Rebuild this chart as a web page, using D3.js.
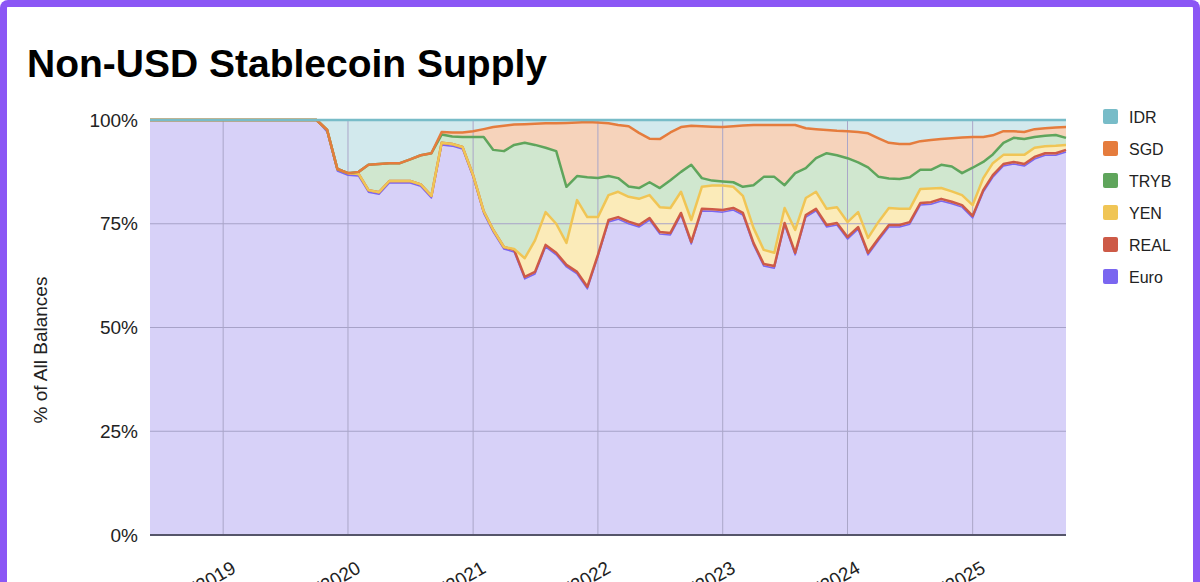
<!DOCTYPE html>
<html><head><meta charset="utf-8">
<script src="https://cdn.jsdelivr.net/npm/d3@7/dist/d3.min.js"></script>
<style>
html,body{margin:0;padding:0;background:#fff;overflow:hidden}
#frame{position:absolute;left:0;top:0;width:1200px;height:582px;box-sizing:border-box;border:7px solid #8b57f5;border-bottom:none;border-radius:8px 8px 0 0}
svg{position:absolute;left:0;top:0}
</style></head><body>
<div id="frame"></div>
<svg id="c" width="1200" height="582"></svg>
<script>
const dates = ["2018-06","2019-01","2019-06","2019-10","2019-11","2019-12",
"2020-01","2020-02","2020-03","2020-04","2020-05","2020-06","2020-07","2020-08","2020-09","2020-10","2020-11","2020-12",
"2021-01","2021-02","2021-03","2021-04","2021-05","2021-06","2021-07","2021-08","2021-09","2021-10","2021-11","2021-12",
"2022-01","2022-02","2022-03","2022-04","2022-05","2022-06","2022-07","2022-08","2022-09","2022-10","2022-11","2022-12",
"2023-01","2023-02","2023-03","2023-04","2023-05","2023-06","2023-07","2023-08","2023-09","2023-10","2023-11","2023-12",
"2024-01","2024-02","2024-03","2024-04","2024-05","2024-06","2024-07","2024-08","2024-09","2024-10","2024-11","2024-12",
"2025-01","2025-02","2025-03","2025-04","2025-05","2025-06","2025-07","2025-08","2025-09","2025-10"];
const euro = [100,100,100,100,97.1,87.7,
86.7,86.5,82.6,82.1,84.8,84.8,84.8,84.0,81.2,94.0,93.7,93.0,
86.2,77.5,73.0,68.9,68.2,61.7,62.9,69.4,67.5,64.6,62.9,59.3,
67.0,75.4,76.1,75.0,74.2,75.9,72.5,72.3,77.1,70.1,78.1,78.0,
77.8,78.3,77.1,69.9,64.8,64.3,74.7,67.5,76.6,78.1,74.2,74.7,
71.3,73.7,67.5,71.0,74.2,74.2,74.9,79.5,79.7,80.5,79.8,79.0,
76.4,82.6,86.2,88.9,89.4,88.9,90.6,91.5,91.5,92.3];
const real = [0,0,0,0,.5,.5, .5,.5,.5,.5,.5,.5,.5,.5,.5,.5,.5,.5,
.5,.5,.5,.5,.5,.5,.5,.5,.5,.5,.5,.5, .5,.5,.5,.5,.5,.5,.5,.5,.5,.5,.5,.5,
.5,.5,.5,.5,.5,.5,.5,.5,.5,.5,.5,.5, .5,.5,.5,.5,.5,.5,.5,.5,.5,.5,.5,.5, .5,.5,.5,.5,.5,.5,.5,.5,.5,.5];
const yen = [0,0,0,0,0,0, 0,0,0,0,0,0,0,0,0,0,0,0,
0,0,0,0,.2,4.5,7.6,7.9,7.0,5.3,17.3,16.8,
9.1,6.0,6.1,6.0,6.3,5.5,6.0,6.0,5.1,5.3,5.3,5.7,
5.9,5.1,4.1,3.6,3.4,3.2,3.6,5.5,4.1,4.1,3.9,3.8,
3.6,3.6,3.6,4.0,4.1,3.9,3.2,3.4,3.3,2.6,2.5,2.4,
2.6,2.9,2.9,2.2,1.7,2.2,2.2,1.7,1.8,1.2];
const tryb = [0,0,0,0,0,0, 0,.5,6.1,6.8,4.3,4.3,5.2,7.0,10.3,2.0,1.8,2.4,
9.2,17.9,19.3,23.1,25.1,27.8,23.0,15.5,17.5,13.5,5.8,9.6,
9.4,4.6,3.3,2.5,2.6,3.1,4.6,6.7,4.8,13.3,2.1,1.2,
1.0,1.1,2.2,10.3,17.6,18.3,5.5,13.7,7.2,8.1,13.4,12.5,
15.4,12.0,17.0,10.8,7.1,7.2,7.6,4.6,4.5,5.6,6.0,5.3,
9.0,3.9,2.1,2.9,4.1,3.8,2.6,2.5,2.6,1.7];
const sgd = [0,0,0,0,0,0, 0,0,0,0,0,0,0,0,0,.6,1.0,1.1,
1.4,1.9,5.5,6.1,4.9,4.5,5.1,5.9,6.7,15.4,12.9,13.3,
13.4,12.7,12.8,14.5,13.3,10.5,11.8,11.5,10.8,9.4,12.5,13.0,
13.1,13.5,14.8,14.5,12.5,12.5,14.5,11.6,9.6,7.0,5.6,5.9,
6.5,7.3,8.2,9.3,8.6,8.4,8.0,6.9,7.2,6.2,6.8,8.6,
7.4,6.0,4.6,2.8,1.6,1.7,1.9,1.8,1.8,2.6];
const idr = [0,0,0,0,2.4,11.8, 12.8,12.5,10.8,10.6,10.4,10.4,9.5,8.5,8.0,2.9,3.0,3.0,
2.7,2.2,1.7,1.4,1.1,1.0,.9,.8,.8,.7,.6,.5,
.6,.8,1.2,1.5,3.1,4.5,4.6,3.0,1.7,1.4,1.5,1.6,
1.7,1.5,1.3,1.2,1.2,1.2,1.2,1.2,2.0,2.2,2.4,2.6,
2.7,2.9,3.2,4.4,5.5,5.8,5.8,5.1,4.8,4.6,4.4,4.2,
4.1,4.1,3.7,2.7,2.7,2.9,2.2,2.0,1.8,1.7];
const seriesNames = ["Euro","REAL","YEN","TRYB","SGD","IDR"];
const legendNames = ["IDR","SGD","TRYB","YEN","REAL","Euro"];
const yTicks = [0,25,50,75,100];
const xTickYears = [2019,2020,2021,2022,2023,2024,2025];

const colors = {Euro:"#7a66f0",REAL:"#cd5a47",YEN:"#f0c555",TRYB:"#5fa55c",SGD:"#e57c3d",IDR:"#78bcc8"};
const fills = {Euro:"#d7d1f8",REAL:"#f0cbc4",YEN:"#fbebb9",TRYB:"#d0e7cf",SGD:"#f6d3bb",IDR:"#d2e9ed"};

const parse = d3.timeParse("%Y-%m");
const seriesArr = {Euro:euro,REAL:real,YEN:yen,TRYB:tryb,SGD:sgd,IDR:idr};
const table = dates.map((d,i)=>{const o={date:parse(d)}; seriesNames.forEach(n=>o[n]=seriesArr[n][i]); return o;});
const stack = d3.stack().keys(seriesNames)(table);

const svg = d3.select("#c");
const L=150,R=1066,T=120,B=535;
const x = d3.scaleTime().domain([new Date(2018,5,1),new Date(2025,9,1)]).range([L,R]);
const y = d3.scaleLinear().domain([0,100]).range([B,T]);

svg.append("text").attr("x",27).attr("y",77).attr("font-family","Liberation Sans, Arial, sans-serif")
 .attr("font-weight","bold").attr("font-size",39).attr("fill","#000").text("Non-USD Stablecoin Supply");

const area = d3.area().x(d=>x(d.data.date)).y0(d=>y(d[0])).y1(d=>y(d[1]));
const line = d3.line().x(d=>x(d.data.date)).y(d=>y(d[1]));
stack.forEach(s=>{
  svg.append("path").attr("d",area(s)).attr("fill",fills[s.key]).attr("stroke","none");
});
svg.append("g").selectAll("line").data(yTicks.filter(t=>t>0)).join("line")
 .attr("x1",L).attr("x2",R).attr("y1",d=>y(d)).attr("y2",d=>y(d)).attr("stroke","#a7a2c8").attr("stroke-width",1);
svg.append("g").selectAll("line").data(xTickYears).join("line")
 .attr("x1",d=>x(new Date(d,0,1))).attr("x2",d=>x(new Date(d,0,1))).attr("y1",T).attr("y2",B).attr("stroke","#aaa6c8").attr("stroke-width",1);
stack.forEach(s=>{
  svg.append("path").attr("d",line(s)).attr("fill","none").attr("stroke",colors[s.key])
   .attr("stroke-width",s.key==="Euro"?1.5:2.5).attr("stroke-linejoin","round");
});
svg.append("line").attr("x1",L).attr("x2",R).attr("y1",B).attr("y2",B).attr("stroke","#55556a").attr("stroke-width",2);

const yAxis = svg.append("g").attr("transform",`translate(${L},0)`)
 .call(d3.axisLeft(y).tickValues(yTicks).tickFormat(d=>d+"%").tickSize(0).tickPadding(12));
yAxis.select(".domain").remove();
yAxis.selectAll("text").attr("font-family","Liberation Sans, Arial, sans-serif").attr("font-size",19).attr("fill","#222");

const xAxis = svg.append("g").attr("transform",`translate(0,${B})`)
 .call(d3.axisBottom(x).tickValues(xTickYears.map(yy=>new Date(yy,0,1))).tickFormat(d3.timeFormat("1/1/%Y")).tickSize(0));
xAxis.select(".domain").remove();
xAxis.selectAll("text").attr("font-family","Liberation Sans, Arial, sans-serif").attr("font-size",19).attr("fill","#222")
 .attr("text-anchor","end").attr("dy",0).attr("transform","translate(12,34) rotate(-30)");

svg.append("text").attr("transform","translate(47,350) rotate(-90)").attr("text-anchor","middle")
 .attr("font-family","Liberation Sans, Arial, sans-serif").attr("font-size",19).attr("fill","#222").text("% of All Balances");

const lg = svg.append("g").selectAll("g").data(legendNames).join("g").attr("transform",(d,i)=>`translate(1103,${117+i*32})`);
lg.append("rect").attr("x",0).attr("y",-8).attr("width",15).attr("height",15).attr("rx",2).attr("fill",d=>colors[d]);
lg.append("text").attr("x",26).attr("y",0).attr("dy","0.35em").attr("font-family","Liberation Sans, Arial, sans-serif")
 .attr("font-size",16).attr("fill","#222").text(d=>d);
</script></body></html>
